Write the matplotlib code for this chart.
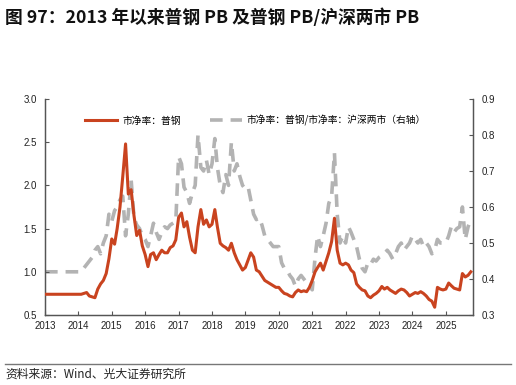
import matplotlib
matplotlib.use("Agg")
import matplotlib.pyplot as plt
import matplotlib.dates as mdates
import pandas as pd

plt.rcParams['font.family'] = ['Liberation Sans', 'Noto Sans CJK SC', 'DejaVu Sans']

# monthly PB of steel sector (left axis), Jan 2013 .. Oct 2025
pb_steel = [
    0.74, 0.74, 0.74, 0.74, 0.74, 0.74, 0.74, 0.74, 0.74, 0.74, 0.74, 0.74,   # 2013
    0.74, 0.74, 0.75, 0.76, 0.72, 0.71, 0.70, 0.80, 0.86, 0.90, 0.98, 1.15,   # 2014
    1.38, 1.32, 1.50, 1.75, 2.10, 2.48, 1.90, 1.95, 1.65, 1.42, 1.48, 1.30,   # 2015
    1.20, 1.06, 1.20, 1.22, 1.14, 1.20, 1.25, 1.22, 1.22, 1.28, 1.30, 1.37,   # 2016
    1.63, 1.68, 1.52, 1.58, 1.40, 1.25, 1.22, 1.52, 1.72, 1.55, 1.60, 1.52,   # 2017
    1.55, 1.72, 1.52, 1.33, 1.30, 1.28, 1.25, 1.33, 1.22, 1.14, 1.08, 1.02,   # 2018
    1.05, 1.14, 1.22, 1.17, 1.02, 1.00, 0.95, 0.90, 0.88, 0.86, 0.84, 0.82,   # 2019
    0.82, 0.78, 0.75, 0.74, 0.72, 0.71, 0.76, 0.79, 0.77, 0.78, 0.77, 0.82,   # 2020
    0.90, 1.00, 1.05, 1.10, 1.02, 1.12, 1.22, 1.35, 1.62, 1.25, 1.10, 1.08,   # 2021
    1.10, 1.08, 1.02, 0.99, 0.86, 0.82, 0.79, 0.78, 0.72, 0.70, 0.73, 0.75,   # 2022
    0.78, 0.83, 0.80, 0.82, 0.79, 0.77, 0.75, 0.78, 0.80, 0.79, 0.76, 0.72,   # 2023
    0.74, 0.76, 0.75, 0.77, 0.75, 0.72, 0.68, 0.66, 0.59, 0.82, 0.80, 0.79,   # 2024
    0.80, 0.87, 0.84, 0.81, 0.80, 0.79, 0.98, 0.94, 0.96, 1.00,               # 2025
]

# steel PB / whole-market PB (right axis)
pb_ratio = [
    0.42, 0.42, 0.42, 0.42, 0.42, 0.42, 0.42, 0.42, 0.42, 0.42, 0.42, 0.42,   # 2013
    0.42, 0.42, 0.43, 0.44, 0.45, 0.46, 0.48, 0.49, 0.47, 0.50, 0.52, 0.58,   # 2014
    0.56, 0.59, 0.60, 0.62, 0.63, 0.52, 0.58, 0.675, 0.57, 0.55, 0.54, 0.52,  # 2015
    0.51, 0.49, 0.52, 0.555, 0.53, 0.51, 0.53, 0.545, 0.54, 0.55, 0.555, 0.56,  # 2016
    0.74, 0.72, 0.655, 0.64, 0.61, 0.64, 0.66, 0.80, 0.71, 0.70, 0.73, 0.69,  # 2017
    0.72, 0.79, 0.71, 0.66, 0.64, 0.69, 0.66, 0.78, 0.70, 0.72, 0.685, 0.66,  # 2018
    0.65, 0.655, 0.62, 0.58, 0.565, 0.57, 0.55, 0.52, 0.51, 0.50, 0.49, 0.49,  # 2019
    0.49, 0.445, 0.43, 0.425, 0.41, 0.40, 0.38, 0.40, 0.41, 0.40, 0.39, 0.38,  # 2020
    0.37, 0.46, 0.52, 0.49, 0.52, 0.555, 0.61, 0.63, 0.75, 0.58, 0.50, 0.52,  # 2021
    0.50, 0.545, 0.53, 0.51, 0.49, 0.455, 0.43, 0.42, 0.445, 0.44, 0.455, 0.45,  # 2022
    0.46, 0.465, 0.47, 0.48, 0.47, 0.455, 0.47, 0.49, 0.50, 0.48, 0.49, 0.50,  # 2023
    0.52, 0.51, 0.50, 0.51, 0.49, 0.50, 0.49, 0.47, 0.48, 0.51, 0.50, 0.50,   # 2024
    0.50, 0.52, 0.545, 0.53, 0.54, 0.545, 0.60, 0.51, 0.545, 0.565,          # 2025
]

dates = pd.date_range('2013-01-01', periods=len(pb_steel), freq='MS')
years = list(range(2013, 2026))

red = '#C9431F'
grey = '#B3B3B3'

fig = plt.figure(figsize=(5.16, 3.85), dpi=100)
ax = fig.add_axes([0.0872, 0.1818, 0.8295, 0.5611])
ax2 = ax.twinx()

l1, = ax.plot(dates, pb_steel, color=red, lw=2.2, zorder=3, label='市净率：普钢')
l2, = ax2.plot(dates, pb_ratio, color=grey, lw=2.6, dashes=(3.5, 2.2),
               label='市净率：普钢/市净率：沪深两市（右轴）')
ax.set_zorder(ax2.get_zorder() + 1)
ax.patch.set_visible(False)

ax.set_ylim(0.5, 3.0)
ax.set_yticks([0.5, 1.0, 1.5, 2.0, 2.5, 3.0])
ax.set_yticklabels([f'{v:.1f}' for v in [0.5, 1.0, 1.5, 2.0, 2.5, 3.0]])
ax2.set_ylim(0.3, 0.9)
ax2.set_yticks([0.3, 0.4, 0.5, 0.6, 0.7, 0.8, 0.9])
ax2.set_yticklabels([f'{v:.1f}' for v in [0.3, 0.4, 0.5, 0.6, 0.7, 0.8, 0.9]])

ax.set_xlim(pd.Timestamp('2013-01-01'), pd.Timestamp('2025-10-25'))
ax.set_xticks([pd.Timestamp(f'{y}-01-01') for y in years])
ax.xaxis.set_major_formatter(mdates.DateFormatter('%Y'))

spine_c = '#555555'
for a in (ax, ax2):
    for s in a.spines.values():
        s.set_color(spine_c)
        s.set_linewidth(0.9)
    a.spines['top'].set_visible(False)
    a.tick_params(direction='in', length=3, width=0.8, color=spine_c,
                  labelsize=7, labelcolor='#222222', pad=6)
ax.tick_params(axis='x', pad=4)

ax.legend(handles=[l1, l2], loc='center left', bbox_to_anchor=(0.085, 0.9),
          ncol=2, frameon=False, handlelength=3.3, handletextpad=0.5,
          columnspacing=3.0, borderaxespad=0,
          prop={'family': 'Noto Sans CJK SC', 'size': 7})

fig.text(0.01, 0.953, '图 97：2013 年以来普钢 PB 及普钢 PB/沪深两市 PB',
         fontsize=12.8, fontweight='bold', family='Noto Sans CJK SC',
         va='center', ha='left', color='#111111')

fig.add_artist(plt.Line2D([0.01, 0.99], [0.055, 0.055], color='#777777', lw=1.0))
fig.text(0.01, 0.028, '资料来源：Wind、光大证券研究所', fontsize=8.5,
         family='Noto Sans CJK SC', va='center', ha='left', color='#222222')

fig.savefig('out.png', dpi=100)
